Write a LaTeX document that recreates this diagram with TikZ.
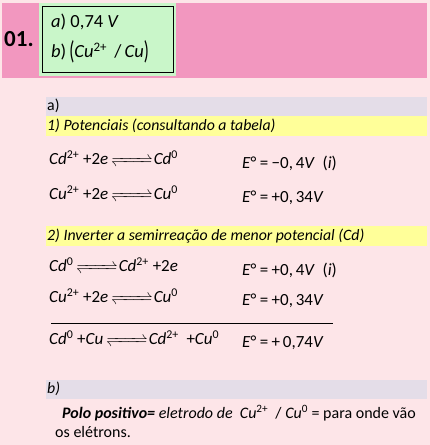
\documentclass[tikz,border=0pt]{standalone}
\usepackage{mathtools}
\usepackage{fontspec}
\setmainfont{Carlito}
\usetikzlibrary{positioning}

\definecolor{bgpink}{HTML}{FDE5E8}
\definecolor{headpink}{HTML}{F297BF}
\definecolor{boxgreen}{HTML}{C9F6C9}
\definecolor{bandgray}{HTML}{E4DDE8}
\definecolor{bandyellow}{HTML}{FFFF99}

\newcommand{\eqarrow}{\ensuremath{\mkern3mu\xrightleftharpoons{\hspace{1.9em}}\mkern1mu}}
\newcommand{\ion}[2]{\textit{#1}\textsuperscript{#2}}
\newcommand{\tallparen}[1]{\raisebox{-0.22ex}{\scalebox{0.9}[1.4]{#1}}}
\newcommand{\eqsign}{\hspace{0.2em}=\hspace{0.2em}}

\begin{document}
\begin{tikzpicture}[x=1pt, y=-1pt]%
        \tikzstyle{txt}=[anchor=west, inner sep=0pt, font=\fontsize{17}{19}\selectfont];%
        \tikzstyle{note}=[txt, font=\fontsize{16}{18}\selectfont];%
        \tikzstyle{hint}=[txt, font=\fontsize{15.8}{18}\selectfont\itshape];%
        \tikzstyle{answer}=[txt, font=\fontsize{18.5}{20}\selectfont];%
        \useasboundingbox (0,0) rectangle (430,445);
        \fill[bgpink] (0,0) rectangle (430,445);

        \fill[headpink] (2,3) rectangle (427,78);
        \fill[boxgreen] (39,3) rectangle (176,76);
        \node[draw=black, line width=0.8pt, minimum width=131pt, minimum height=66pt, inner sep=0pt] (frame) at (107.5,39) {};
        \node[txt, font=\fontsize{23}{26}\selectfont\bfseries] (num) at (4,39) {01.};
        \node[answer] (ansa) at (51,22) {\textit{a}) 0,74 \textit{V}};
        \node[answer] (ansb) at (51,52) {\textit{b})\,\tallparen{(}\textit{Cu}\textsuperscript{2+}\, /\,\textit{Cu}\tallparen{)}};

        \fill[bandgray] (46,97) rectangle (427,116);
        \fill[bandyellow] (46,116) rectangle (427,136);
        \node[hint, font=\fontsize{15.8}{18}\selectfont] (parta) at (47,106) {a)};
        \node[hint] (step1) at (47,126) {1) Potenciais (consultando a tabela)};

        \node[txt] (r1) at (49,163) {\ion{Cd}{2+} +2\textit{e}\eqarrow\ion{Cd}{0}};
        \node[txt] (e1) at (242,163) {\textit{E}°\eqsign−0,\,4\textit{V}\ \ (\textit{i})};
        \node[txt] (r2) at (49,198) {\ion{Cu}{2+} +2\textit{e}\eqarrow\ion{Cu}{0}};
        \node[txt] (e2) at (242,198) {\textit{E}°\eqsign+0,\,34\textit{V}};

        \fill[bandyellow] (46,226) rectangle (427,246);
        \node[hint] (step2) at (47,236) {2) Inverter a semirreação de menor potencial (Cd)};

        \node[txt] (r3) at (49,270) {\ion{Cd}{0}\eqarrow\ion{Cd}{2+} +2\textit{e}};
        \node[txt] (e3) at (242,270) {\textit{E}°\eqsign+0,\,4\textit{V}\ \ (\textit{i})};
        \node[txt] (r4) at (49,301) {\ion{Cu}{2+} +2\textit{e}\eqarrow\ion{Cu}{0}};
        \node[txt] (e4) at (242,301) {\textit{E}°\eqsign+0,\,34\textit{V}};

        \coordinate (rulel) at (51,323);
        \coordinate (ruler) at (333,323);
        \draw[line width=0.8pt] (rulel) -- (ruler);

        \node[txt] (r5) at (49,343) {\ion{Cd}{0} +\textit{Cu}\eqarrow\ion{Cd}{2+}\ \ +\ion{Cu}{0}};
        \node[txt] (e5) at (242,343) {\textit{E}°\eqsign+\,0,74\textit{V}};

        \fill[bandgray] (46,380) rectangle (427,399);
        \node[hint] (partb) at (47,389) {b)};
        \node[note] (pole) at (62,413) {\textbf{\textit{Polo positivo=}} \textit{eletrodo de}\ \ \ion{Cu}{2+}\ \ /\ \ion{Cu}{0} = para onde vão};
        \node[note] (pole2) at (55,432) {os elétrons.};
\end{tikzpicture}
\end{document}
